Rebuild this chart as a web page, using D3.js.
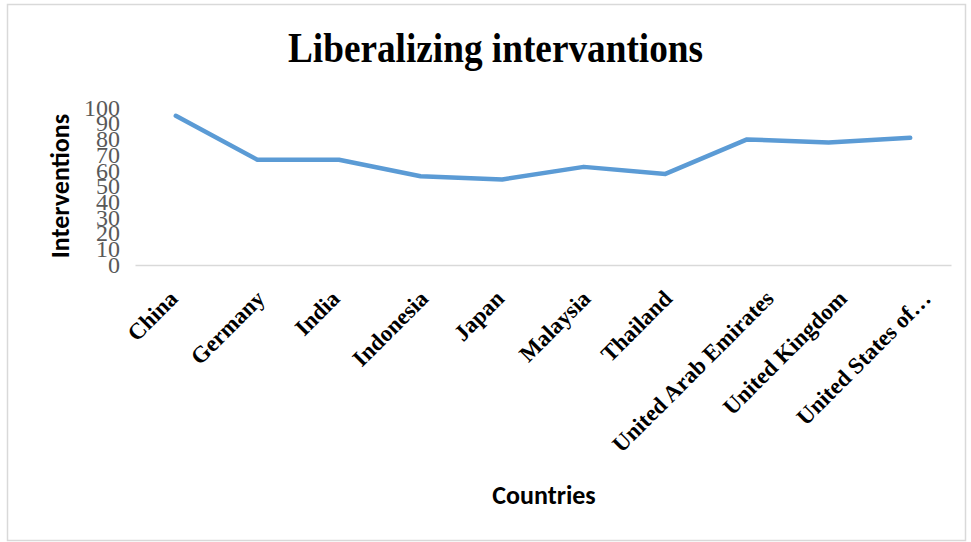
<!DOCTYPE html>
<html>
<head>
<meta charset="utf-8">
<script src="https://cdn.jsdelivr.net/npm/d3@7"></script>
<style>
  html, body { margin: 0; padding: 0; background: #fff; }
  svg { display: block; }
</style>
</head>
<body>
<svg id="chart" width="971" height="542"></svg>
<script>
// Chart data
const countries = ["China", "Germany", "India", "Indonesia", "Japan", "Malaysia",
                   "Thailand", "United Arab Emirates", "United Kingdom", "United States of…"];
const interventions = [95, 67, 67, 56.5, 54.5, 62.5, 58, 80, 78, 81];
const yTicks = [0, 10, 20, 30, 40, 50, 60, 70, 80, 90, 100];

const svg = d3.select("#chart");

// Outer chart frame
svg.append("rect")
  .attr("x", 7.5).attr("y", 4.5)
  .attr("width", 958).attr("height", 536)
  .attr("fill", "#fff")
  .attr("stroke", "#d9d9d9").attr("stroke-width", 1.5);

const plot = { left: 135, right: 951, top: 108, bottom: 265 };

const x = d3.scaleBand()
  .domain(countries)
  .range([plot.left, plot.right]);

const y = d3.scaleLinear()
  .domain([0, 100])
  .range([plot.bottom, plot.top]);

// Title (condensed bold serif)
svg.append("text")
  .attr("x", 288).attr("y", 62)
  .attr("font-family", "Liberation Serif, Times New Roman, serif")
  .attr("font-weight", "bold")
  .attr("font-size", 43)
  .attr("textLength", 415)
  .attr("lengthAdjust", "spacingAndGlyphs")
  .attr("fill", "#000")
  .text("Liberalizing intervantions");

// Y axis (labels only, no line); tall digits crowd together as in the source style
const yAxis = d3.axisLeft(y).tickValues(yTicks).tickSize(0).tickPadding(0);
const gy = svg.append("g")
  .attr("transform", `translate(120,0)`)
  .call(yAxis);
gy.select(".domain").remove();
gy.selectAll("text")
  .attr("font-family", "Liberation Serif, Times New Roman, serif")
  .attr("font-size", 24)
  .attr("fill", "#595959")
  .attr("dy", "0.3em");

// X axis baseline and rotated category labels
const xAxis = d3.axisBottom(x).tickSize(0).tickPadding(0);
const gx = svg.append("g")
  .attr("transform", `translate(0,${plot.bottom})`)
  .call(xAxis);
gx.select(".domain")
  .attr("stroke", "#d9d9d9").attr("stroke-width", 1.5);
gx.selectAll("text")
  .attr("font-family", "Liberation Serif, Times New Roman, serif")
  .attr("font-weight", "bold")
  .attr("font-size", 23)
  .attr("fill", "#000")
  .attr("text-anchor", "end")
  .attr("dy", 0)
  .attr("transform", function () {
    // longer labels sit a little further right of their tick
    const len = this.getComputedTextLength();
    const dx = 0.157 * len - 6;
    return `translate(${dx},35) rotate(-45)`;
  });

// Series line
const line = d3.line()
  .x((d, i) => x(countries[i]) + x.bandwidth() / 2)
  .y(d => y(d));

svg.append("path")
  .datum(interventions)
  .attr("fill", "none")
  .attr("stroke", "#5b9bd5")
  .attr("stroke-width", 4.5)
  .attr("stroke-linejoin", "round")
  .attr("stroke-linecap", "round")
  .attr("d", line);

// Axis titles
svg.append("text")
  .attr("transform", "translate(69,186) rotate(-90)")
  .attr("text-anchor", "middle")
  .attr("font-family", "Carlito, Liberation Sans, Open Sans, sans-serif")
  .attr("font-weight", "bold")
  .attr("font-size", 26)
  .attr("fill", "#000")
  .text("Interventions");

svg.append("text")
  .attr("x", 544).attr("y", 504)
  .attr("text-anchor", "middle")
  .attr("font-family", "Carlito, Liberation Sans, Open Sans, sans-serif")
  .attr("font-weight", "bold")
  .attr("font-size", 26)
  .attr("fill", "#000")
  .text("Countries");
</script>
</body>
</html>
